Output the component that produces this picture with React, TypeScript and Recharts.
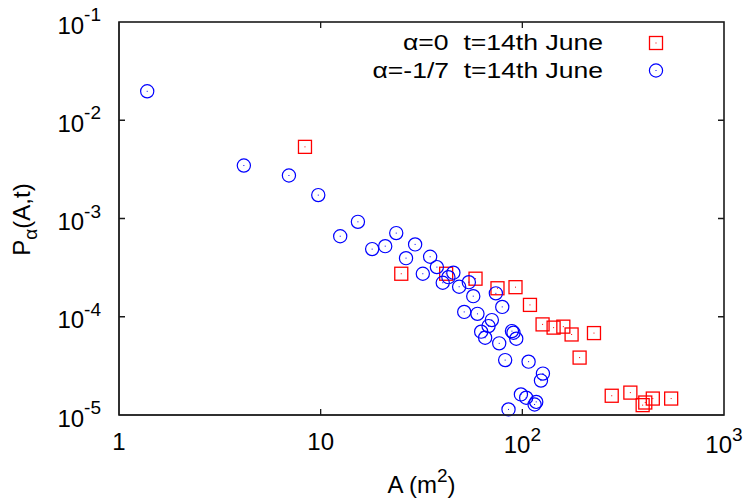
import { ScatterChart, Scatter, XAxis, YAxis } from "recharts";

const FONT = "'Liberation Sans', Arial, sans-serif";
const INK = "#1a1a1a";

// chart geometry
const W = 745;
const H = 504;
const MARGIN = { top: 22, right: 21, bottom: 0, left: 0 };
const Y_AXIS_W = 119;
const X_AXIS_H = 89;
const PLOT_L = MARGIN.left + Y_AXIS_W;
const PLOT_T = MARGIN.top;
const PLOT_W = W - MARGIN.left - MARGIN.right - Y_AXIS_W;
const PLOT_H = H - MARGIN.top - MARGIN.bottom - X_AXIS_H;

// axis domains and ticks (log scale)
const xDomain = [1, 1000];
const yDomain = [1e-5, 0.1];
const xTicks = [1, 10, 100, 1000];
const yTicks = [1e-5, 1e-4, 1e-3, 1e-2, 1e-1];

const seriesNames = ["\u03b1=0  t=14th June", "\u03b1=-1/7  t=14th June"];

// alpha = 0
const redA = [
  8.36, 25.1, 41.9, 58.6, 75.3, 92.5, 109.1, 126, 142.9, 159.7, 175.5, 192.3,
  226.6, 277.5, 343.3, 395, 407, 443.6, 547,
];
const redP = [
  5.36e-3, 2.74e-4, 2.74e-4, 2.44e-4, 1.95e-4, 2.0e-4, 1.32e-4, 8.36e-5,
  7.75e-5, 7.93e-5, 6.6e-5, 3.84e-5, 6.82e-5, 1.57e-5, 1.69e-5, 1.26e-5,
  1.34e-5, 1.47e-5, 1.47e-5,
];

// alpha = -1/7
const blueA = [
  1.38, 4.16, 6.96, 9.73, 12.5, 15.3, 18.0, 20.9, 23.7, 26.5, 29.4, 32.1, 34.9,
  37.7, 40.3, 43.0, 45.5, 48.6, 51.5, 54.3, 57.1, 59.9, 62.5, 65.4, 68.0, 70.6,
  73.9, 76.8, 79.5, 82.2, 85.4, 88.8, 90.4, 93.3, 98.4, 104.5, 107.4, 115,
  117.2, 123.7, 126.5,
];
const blueP = [
  0.0197, 3.46e-3, 2.74e-3, 1.73e-3, 6.6e-4, 9.25e-4, 4.88e-4, 5.23e-4, 7.1e-4,
  3.95e-4, 5.45e-4, 2.74e-4, 4.08e-4, 3.2e-4, 2.22e-4, 2.53e-4, 2.81e-4,
  2.02e-4, 1.12e-4, 2.25e-4, 1.62e-4, 1.07e-4, 7.05e-5, 6.12e-5, 8.03e-5,
  9.25e-5, 1.73e-4, 5.36e-5, 1.26e-4, 3.62e-5, 1.14e-5, 7.14e-5, 6.88e-5,
  5.98e-5, 1.62e-5, 1.5e-5, 3.49e-5, 1.28e-5, 1.36e-5, 2.24e-5, 2.64e-5,
];

const redData = redA.map((a, i) => ({ x: a, y: redP[i] }));
const blueData = blueA.map((a, i) => ({ x: a, y: blueP[i] }));

const expOf = (v: number) => Math.round(Math.log10(v));

// same log mapping as the axes, used for the frame's ticks
const lx = (v: number) =>
  PLOT_L + (PLOT_W * (Math.log10(v) - Math.log10(xDomain[0]))) / (Math.log10(xDomain[1]) - Math.log10(xDomain[0]));
const ly = (v: number) =>
  PLOT_T + (PLOT_H * (Math.log10(yDomain[1]) - Math.log10(v))) / (Math.log10(yDomain[1]) - Math.log10(yDomain[0]));

function SquareMark({ cx, cy }: any) {
  return (
    <g>
      <rect x={cx - 6.5} y={cy - 6.5} width={13} height={13} fill="none" stroke="#ff0000" strokeWidth={1.3} />
      <rect x={cx - 0.5} y={cy - 0.5} width={1} height={1} fill="#ff0000" />
    </g>
  );
}

function CircleMark({ cx, cy }: any) {
  return (
    <g>
      <circle cx={cx} cy={cy} r={6.6} fill="none" stroke="#0000ff" strokeWidth={1.2} />
      <rect x={cx - 0.5} y={cy - 0.5} width={1} height={1} fill="#0000ff" />
    </g>
  );
}

function BottomTick({ x, y, payload }: any) {
  const e = expOf(payload.value);
  return e < 2 ? (
    <text x={x} y={y + 35} textAnchor="middle" fontSize={24} fontFamily={FONT} fill="#000">
      {e === 0 ? "1" : "10"}
    </text>
  ) : (
    <text x={x} y={y + 38} textAnchor="middle" fontSize={24} fontFamily={FONT} fill="#000">
      10<tspan dy={-12} fontSize={19}>{e}</tspan>
    </text>
  );
}

function LeftTick({ x, y, payload }: any) {
  const e = expOf(payload.value);
  return (
    <text x={x - 18} y={y + 11.5} textAnchor="end" fontSize={24} fontFamily={FONT} fill="#000">
      10<tspan dy={-12.5} fontSize={19}>{e}</tspan>
    </text>
  );
}

function YLabel() {
  return (
    <text
      x={0}
      y={0}
      transform="translate(30,219.5) rotate(-90)"
      textAnchor="middle"
      fontSize={24}
      fontFamily={FONT}
      fill="#000"
    >
      P<tspan dy={7} fontSize={19}>{"\u03b1"}</tspan>
      <tspan dy={-7}>(A,t)</tspan>
    </text>
  );
}

// frame, inward ticks, x title and key
function Overlay() {
  const innerX = xTicks.slice(1, -1);
  const innerY = yTicks.slice(1, -1);
  const bottom = PLOT_T + PLOT_H;
  const right = PLOT_L + PLOT_W;
  return (
    <svg width={W} height={H} style={{ position: "absolute", left: 0, top: 0, pointerEvents: "none" }}>
      <rect x={PLOT_L} y={PLOT_T} width={PLOT_W} height={PLOT_H} fill="none" stroke={INK} strokeWidth={1.6} />
      {innerX.map((v) => (
        <path
          key={`x${v}`}
          d={`M${lx(v)},${bottom}V${bottom - 6}M${lx(v)},${PLOT_T}V${PLOT_T + 6}`}
          stroke={INK}
          strokeWidth={1.3}
          fill="none"
        />
      ))}
      {innerY.map((v) => (
        <path
          key={`y${v}`}
          d={`M${PLOT_L},${ly(v)}H${PLOT_L + 6}M${right},${ly(v)}H${right - 6}`}
          stroke={INK}
          strokeWidth={1.3}
          fill="none"
        />
      ))}
      <text x={421.5} y={493} textAnchor="middle" fontSize={24} fontFamily={FONT} fill="#000">
        A (m<tspan dy={-11} fontSize={19}>2</tspan>
        <tspan dy={11}>)</tspan>
      </text>
      <text
        x={603}
        y={50}
        textAnchor="end"
        fontSize={22}
        fontFamily={FONT}
        fill="#000"
        textLength={200}
        lengthAdjust="spacingAndGlyphs"
        style={{ whiteSpace: "pre" }}
      >
        {seriesNames[0]}
      </text>
      <SquareMark cx={656} cy={43} />
      <text
        x={603}
        y={77.5}
        textAnchor="end"
        fontSize={22}
        fontFamily={FONT}
        fill="#000"
        textLength={230.5}
        lengthAdjust="spacingAndGlyphs"
        style={{ whiteSpace: "pre" }}
      >
        {seriesNames[1]}
      </text>
      <CircleMark cx={656} cy={70.5} />
    </svg>
  );
}

export default function App() {
  return (
    <div style={{ position: "absolute", left: 0, top: 0, width: W, height: H }}>
      <ScatterChart width={W} height={H} margin={MARGIN}>
        <XAxis
          dataKey="x"
          type="number"
          scale="log"
          domain={xDomain}
          ticks={xTicks}
          interval={0}
          height={X_AXIS_H}
          tickSize={0}
          tickMargin={0}
          tickLine={false}
          tick={<BottomTick />}
          stroke={INK}
        />
        <YAxis
          dataKey="y"
          type="number"
          scale="log"
          domain={yDomain}
          ticks={yTicks}
          interval={0}
          width={Y_AXIS_W}
          tickSize={0}
          tickMargin={0}
          tickLine={false}
          tick={<LeftTick />}
          stroke={INK}
          label={<YLabel />}
        />
        <Scatter name={seriesNames[0]} data={redData} shape={<SquareMark />} isAnimationActive={false} />
        <Scatter name={seriesNames[1]} data={blueData} shape={<CircleMark />} isAnimationActive={false} />
      </ScatterChart>
      <Overlay />
    </div>
  );
}
